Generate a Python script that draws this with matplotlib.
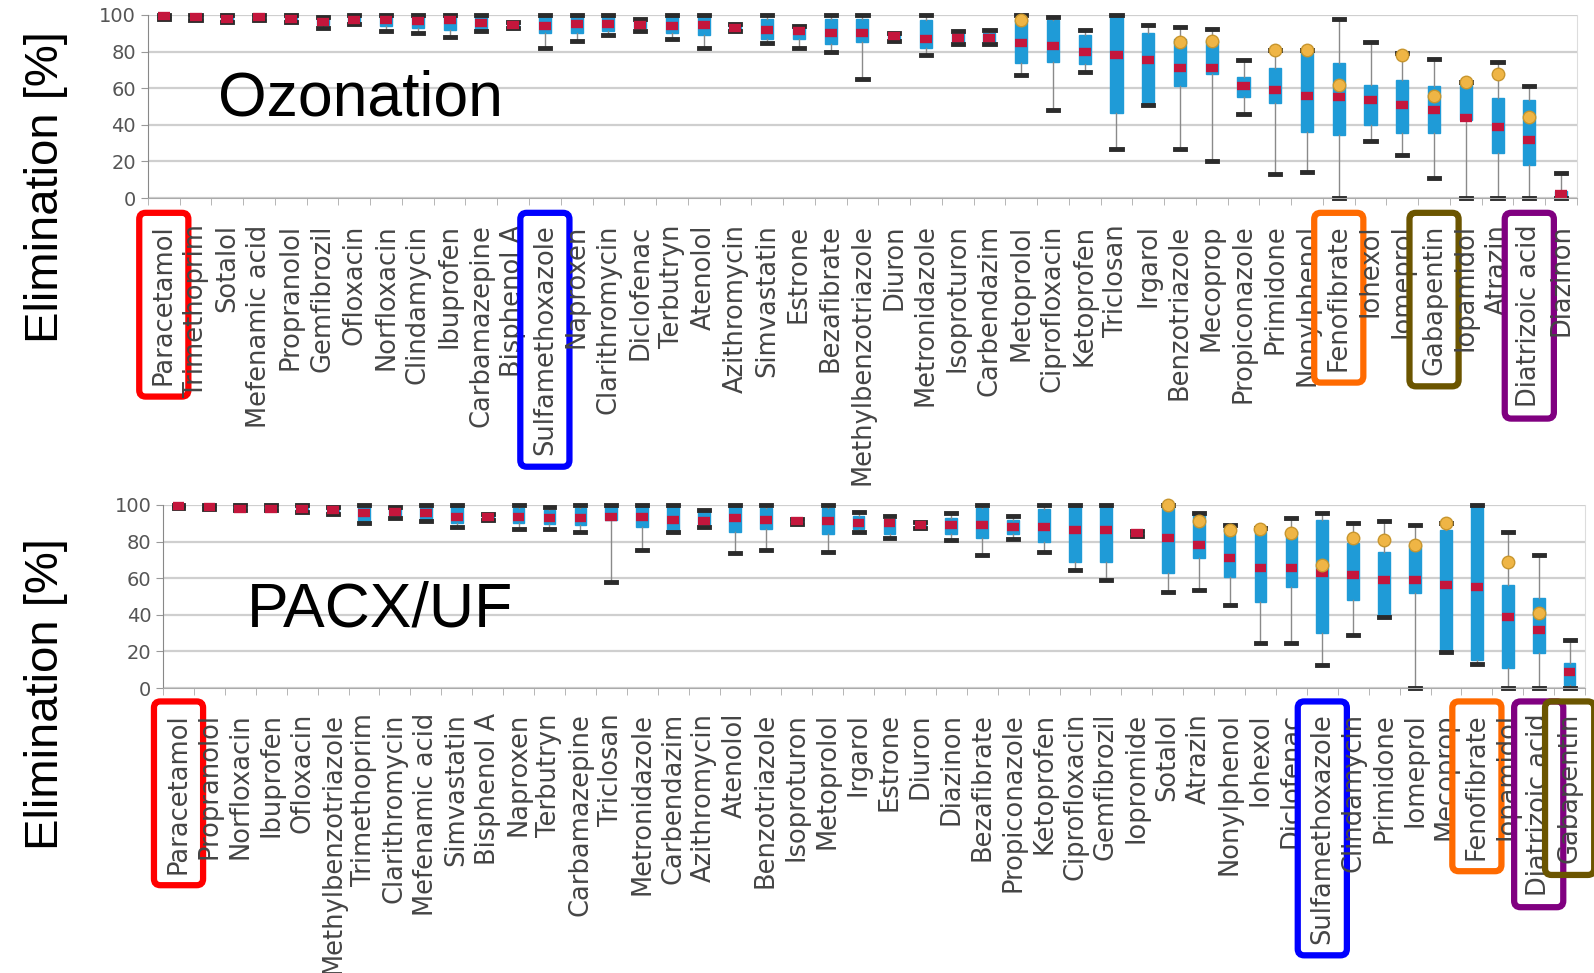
import numpy as np
import matplotlib
matplotlib.use("Agg")
import matplotlib.pyplot as plt

nan = np.nan

# Ozonation: whisker low, Q1, median, Q3, whisker high, extra marker (yellow)
oz_names = ["Paracetamol", "Trimethoprim", "Sotalol", "Mefenamic acid", "Propranolol",
            "Gemfibrozil", "Ofloxacin", "Norfloxacin", "Clindamycin", "Ibuprofen",
            "Carbamazepine", "Bisphenol A", "Sulfamethoxazole", "Naproxen", "Clarithromycin",
            "Diclofenac", "Terbutryn", "Atenolol", "Azithromycin", "Simvastatin",
            "Estrone", "Bezafibrate", "Methylbenzotriazole", "Diuron", "Metronidazole",
            "Isoproturon", "Carbendazim", "Metoprolol", "Ciprofloxacin", "Ketoprofen",
            "Triclosan", "Irgarol", "Benzotriazole", "Mecoprop", "Propiconazole",
            "Primidone", "Nonylphenol", "Fenofibrate", "Iohexol", "Iomeprol",
            "Gabapentin", "Iopamidol", "Atrazin", "Diatrizoic acid", "Diazinon"]
oz_low = [98, 97, 96, 97, 96, 93, 95, 91, 90, 88, 91, 93, 82, 86, 89, 91, 87, 82, 91, 84.5,
          82, 80, 65, 86, 78, 84, 84, 67, 48, 69, 27, 51, 27, 20, 46, 13, 14, 0, 31, 23.5,
          11, 0, 0, 0, 0]
oz_q1 = [99, 98, 97, 98, 97, 94.5, 96, 94, 93, 92, 92, 94, 90, 90, 91, 93, 90, 89, 92, 87,
         87, 84, 85, 87, 82, 85.5, 85, 74, 74.5, 73, 46.5, 52, 61, 68, 55, 52, 36, 34.5, 40, 35.5,
         35.5, 42.6, 24.4, 18, 0.5]
oz_med = [99.5, 99, 98, 99, 98, 96, 97, 97, 96.5, 97, 95.5, 94.5, 94, 95, 95, 94.5, 94, 94.5, 93, 92,
          91, 90, 90, 88.5, 87, 87.5, 87.5, 84.5, 83, 80, 78, 75.5, 71, 71, 61, 59, 56, 55, 53.5, 51,
          48, 43.5, 39, 31.7, 2]
oz_q3 = [100, 100, 99.5, 100, 99.5, 98, 99, 99.5, 99.5, 99.5, 99.5, 95.5, 99, 99, 99, 96.5, 99, 99, 94.5, 98,
         93, 98, 98, 89.5, 97, 90, 90, 97, 97, 89, 100, 90, 87, 86, 66, 71, 81, 73.5, 62, 64.5,
         61, 63.5, 54.5, 53.5, 4]
oz_high = [100, 100, 100, 100, 100, 99, 100, 100, 100, 100, 100, 96, 100, 100, 100, 98, 100, 100, 95, 100,
           94, 100, 100, 90, 100, 91, 92, 100, 99, 92, 100, 94.5, 93.5, 92.5, 75.5, 81, 81, 98, 85.5, 79,
           76, 63.5, 74.5, 61, 13.5]
oz_mark = [nan] * 27 + [97, nan, nan, nan, nan, 85.5, 86, nan, 81, 81, 62, nan, 78,
                        56, 63.5, 68, 44.5, nan]

# PACX/UF
uf_names = ["Paracetamol", "Propranolol", "Norfloxacin", "Ibuprofen", "Ofloxacin",
            "Methylbenzotriazole", "Trimethoprim", "Clarithromycin", "Mefenamic acid", "Simvastatin",
            "Bisphenol A", "Naproxen", "Terbutryn", "Carbamazepine", "Triclosan",
            "Metronidazole", "Carbendazim", "Azithromycin", "Atenolol", "Benzotriazole",
            "Isoproturon", "Metoprolol", "Irgarol", "Estrone", "Diuron",
            "Diazinon", "Bezafibrate", "Propiconazole", "Ketoprofen", "Ciprofloxacin",
            "Gemfibrozil", "Iopromide", "Sotalol", "Atrazin", "Nonylphenol",
            "Iohexol", "Diclofenac", "Sulfamethoxazole", "Clindamycin", "Primidone",
            "Iomeprol", "Mecoprop", "Fenofibrate", "Iopamidol", "Diatrizoic acid", "Gabapentin"]
uf_low = [98.5, 98, 97, 97, 96, 95, 90, 93, 91, 88, 92, 87, 87, 85.4, 58, 75.4, 85.4, 88, 73.6, 75.4,
          89.5, 74.5, 85.4, 81.8, 87.5, 81, 72.7, 81.5, 74.5, 64.5, 59, 83, 52.6, 53.5, 45.4,
          24.4, 24.4, 12.6, 29, 39, 0, 19.8, 13, 0, 0, 0]
uf_q1 = [99, 98.5, 97.5, 97.5, 97, 96, 91, 94, 92, 90, 93, 90, 89.5, 89, 92, 88, 85.4, 88.5, 85, 87,
         90, 84, 87, 84, 88, 84, 82, 84, 80, 69, 69, 83.5, 62.7, 70.9, 60.8,
         47, 55, 30, 48, 39, 51.7, 19.8, 15.3, 10.8, 19, 1.6]
uf_med = [99.5, 99, 98, 98, 97.6, 97, 95.6, 96, 95.6, 93.6, 93.5, 93.6, 92.7, 92.7, 93.6, 93.6, 91.8, 91, 92.7, 91.8,
          91, 91, 90, 90, 89, 89, 89, 88, 88, 86.3, 86.3, 84.5, 81.8, 78, 70.9,
          65.4, 65.4, 62.7, 61.7, 59, 59, 56.3, 55.4, 39, 31.7, 9]
uf_q3 = [100, 100, 99, 99, 99, 98.5, 99.5, 98, 99, 99, 94.5, 98.5, 97, 98.5, 99, 99.5, 99.5, 96, 99.5, 98.5,
         92, 98.5, 94, 92.5, 90, 93, 98.5, 92, 98, 99.5, 99.5, 85.5, 99.5, 95.6, 89,
         87.3, 86, 91.8, 79, 74.5, 78, 86.3, 100, 56.3, 49, 13.7]
uf_high = [100, 100, 100, 100, 100, 99, 100, 99, 100, 100, 95, 100, 99, 100, 100, 100, 100, 97, 100, 100,
           92.5, 100, 96, 94, 90.5, 95.6, 100, 94, 100, 100, 100, 86, 100, 95.6, 89,
           87.3, 92.7, 95.6, 90, 91, 89, 90, 100, 85.4, 72.7, 26]
uf_mark = [nan] * 32 + [100, 91, 86.3, 87, 84.5, 67, 81.8, 81, 78, 90, nan, 69, 40.8, nan]

highlight = {"Paracetamol": "#ff0000", "Sulfamethoxazole": "#0000ff", "Fenofibrate": "#ff6a00",
             "Gabapentin": "#6b5500", "Diatrizoic acid": "#800080"}


def draw_panel(ax, names, low, q1, med, q3, high, mark, label_pad):
    n = len(names)
    pos = np.arange(n)
    stats = [dict(whislo=a, q1=b, med=c, q3=d, whishi=e, fliers=[])
             for a, b, c, d, e in zip(low, q1, med, q3, high)]
    arts = ax.bxp(stats, positions=pos, widths=0.38, capwidths=0.32, patch_artist=True,
                  showfliers=False, manage_ticks=False,
                  boxprops=dict(facecolor="#1f9bd7", edgecolor="#1f9bd7", lw=1),
                  whiskerprops=dict(color="#8a8a8a", lw=1),
                  capprops=dict(color="#2b2b2b", lw=3.5),
                  medianprops=dict(color="#c4163c", lw=6, solid_capstyle="butt"))
    for group in arts.values():
        for a in group:
            a.set_clip_on(False)
    ax.plot(pos, mark, "o", ms=9, mfc="#efb545", mec="#c8962e", ls="none", zorder=5, clip_on=False)

    ax.set_xlim(-0.5, n - 0.5)
    ax.set_ylim(0, 100)
    ax.set_yticks(range(0, 101, 20))
    ax.yaxis.grid(True, color="#cfcfcf", lw=1.6)
    ax.set_axisbelow(True)
    ax.tick_params(axis="y", labelsize=14, labelcolor="#555555", color="#999999", length=5)

    ax.set_xticks(pos)
    ax.set_xticklabels(names, rotation=90, fontsize=18.5, color="#454545")
    ax.set_xticks(np.arange(-0.5, n, 1), minor=True)
    ax.tick_params(axis="x", which="major", length=0, pad=label_pad)
    ax.tick_params(axis="x", which="minor", length=5, color="#aaaaaa")

    for lbl in ax.get_xticklabels():
        c = highlight.get(lbl.get_text())
        if c:
            lbl.set_bbox(dict(boxstyle="round,pad=0.45,rounding_size=0.25",
                              fc="none", ec=c, lw=4.5))

    ax.spines["top"].set_visible(False)
    ax.spines["left"].set_color("#888888")
    ax.spines["bottom"].set_color("#aaaaaa")
    ax.spines["right"].set_color("#dddddd")


fig = plt.figure(figsize=(15.94, 9.73), dpi=100)
ax1 = fig.add_axes([0.0928, 0.7965, 0.8965, 0.1881])
ax2 = fig.add_axes([0.1023, 0.2929, 0.8921, 0.1881])

draw_panel(ax1, oz_names, oz_low, oz_q1, oz_med, oz_q3, oz_high, oz_mark, 19)
draw_panel(ax2, uf_names, uf_low, uf_q1, uf_med, uf_q3, uf_high, uf_mark, 18)

big = dict(family="Liberation Sans", color="black")
ax1.text(0.049, 0.54, "Ozonation", transform=ax1.transAxes, fontsize=45, va="center", **big)
ax2.text(0.059, 0.426, "PACX/UF", transform=ax2.transAxes, fontsize=45, va="center", **big)
fig.text(0.029, 0.808, "Elimination [%]", rotation=90, fontsize=34, ha="center", va="center", **big)
fig.text(0.029, 0.287, "Elimination [%]", rotation=90, fontsize=34, ha="center", va="center", **big)

fig.savefig("out.png", dpi=100, facecolor="white")
